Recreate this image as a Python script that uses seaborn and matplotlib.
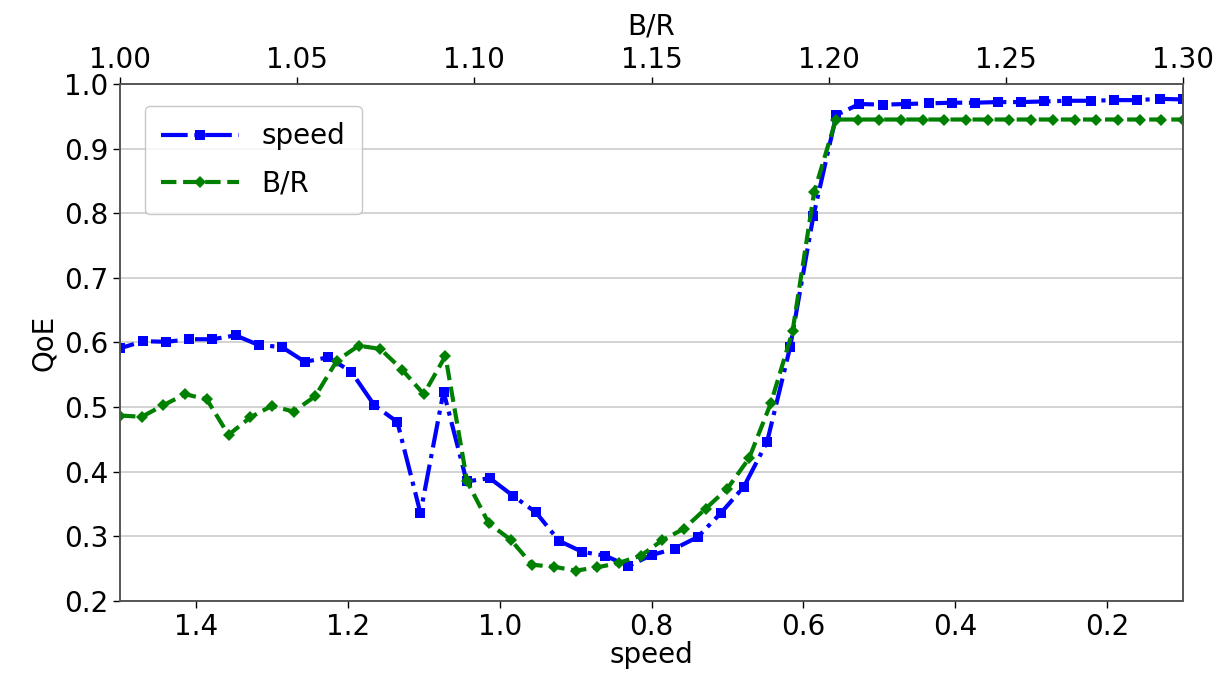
import numpy as np
import pandas as pd
import matplotlib
matplotlib.use("Agg")
import matplotlib.pyplot as plt
import seaborn as sns

# --- data ---
speed_x = np.linspace(1.5, 0.1, 47)
speed_qoe = [0.591, 0.602, 0.601, 0.605, 0.605, 0.611, 0.596, 0.593, 0.570, 0.577,
             0.555, 0.503, 0.477, 0.336, 0.524, 0.385, 0.390, 0.363, 0.337, 0.293,
             0.276, 0.270, 0.254, 0.271, 0.281, 0.299, 0.336, 0.377, 0.446, 0.593,
             0.795, 0.952, 0.969, 0.968, 0.969, 0.970, 0.971, 0.971, 0.972, 0.972,
             0.973, 0.974, 0.974, 0.975, 0.975, 0.977, 0.976]

br_x = np.linspace(1.0, 1.3, 50)
br_qoe = [0.487, 0.485, 0.503, 0.520, 0.512, 0.457, 0.484, 0.502, 0.493, 0.517,
          0.572, 0.595, 0.590, 0.558, 0.520, 0.579, 0.385, 0.320, 0.295, 0.256,
          0.253, 0.247, 0.252, 0.259, 0.270, 0.294, 0.312, 0.343, 0.374, 0.421,
          0.506, 0.617, 0.833, 0.945, 0.945, 0.945, 0.945, 0.945, 0.945, 0.945,
          0.945, 0.945, 0.945, 0.945, 0.945, 0.945, 0.945, 0.945, 0.945, 0.945]

speed_ticks = [1.4, 1.2, 1.0, 0.8, 0.6, 0.4, 0.2]
br_ticks = [1.00, 1.05, 1.10, 1.15, 1.20, 1.25, 1.30]
y_ticks = [0.2, 0.3, 0.4, 0.5, 0.6, 0.7, 0.8, 0.9, 1.0]

df_speed = pd.DataFrame({"speed": speed_x, "QoE": speed_qoe})
df_br = pd.DataFrame({"B/R": br_x, "QoE": br_qoe})

sns.set_style("white")
plt.rcParams['font.family'] = ['DejaVu Sans']
plt.rcParams['text.color'] = 'black'
plt.rcParams['axes.labelcolor'] = 'black'

fig = plt.figure(figsize=(12.25, 6.81), dpi=100)
ax = fig.add_axes([0.098, 0.1175, 0.8677, 0.7592])
ax2 = ax.twiny()

sns.lineplot(data=df_speed, x="speed", y="QoE", ax=ax, color="blue",
             linestyle="-.", linewidth=3, marker="s", markersize=7,
             markeredgewidth=0, label="speed", legend=False)
sns.lineplot(data=df_br, x="B/R", y="QoE", ax=ax2, color="green",
             linestyle="--", linewidth=3, marker="D", markersize=6,
             markeredgewidth=0, label="B/R", legend=False)

ax.set_xlim(1.5, 0.1)
ax.set_ylim(0.2, 1.0)
ax2.set_xlim(1.0, 1.3)
ax2.set_ylim(0.2, 1.0)

ax.set_xticks(speed_ticks)
ax.set_xticklabels([f"{t:.1f}" for t in speed_ticks])
ax2.set_xticks(br_ticks)
ax2.set_xticklabels([f"{t:.2f}" for t in br_ticks])
ax.set_yticks(y_ticks)
ax.set_yticklabels([f"{t:.1f}" for t in y_ticks])

fs = 20
ax.tick_params(axis="both", labelsize=fs, direction="out", length=5, width=1,
               bottom=True, left=True, colors="black", labelcolor="black")
ax2.tick_params(axis="x", labelsize=fs, direction="out", length=5, width=1, top=True,
                colors="black", labelcolor="black", pad=2)
ax.set_xlabel("speed", fontsize=fs, labelpad=0)
ax.set_ylabel("QoE", fontsize=fs, labelpad=4)
ax2.set_xlabel("B/R", fontsize=fs)
ax2.xaxis.set_label_coords(0.5, 1.085)
ax2.xaxis.label.set_verticalalignment("bottom")

ax.yaxis.grid(True, color="#cccccc", linewidth=1.2)
ax.xaxis.grid(False)
ax2.grid(False)
for a in (ax, ax2):
    for s in a.spines.values():
        s.set_color("#555555")
        s.set_linewidth(1.2)

h1, l1 = ax.get_legend_handles_labels()
h2, l2 = ax2.get_legend_handles_labels()
leg = ax2.legend(h1 + h2, l1 + l2, loc="upper left", fontsize=fs, frameon=True,
                 handlelength=2.8, borderpad=0.6, labelspacing=0.7,
                 bbox_to_anchor=(0.01, 0.985))
leg.get_frame().set_edgecolor("#bbbbbb")

fig.savefig("out.png", dpi=100)
